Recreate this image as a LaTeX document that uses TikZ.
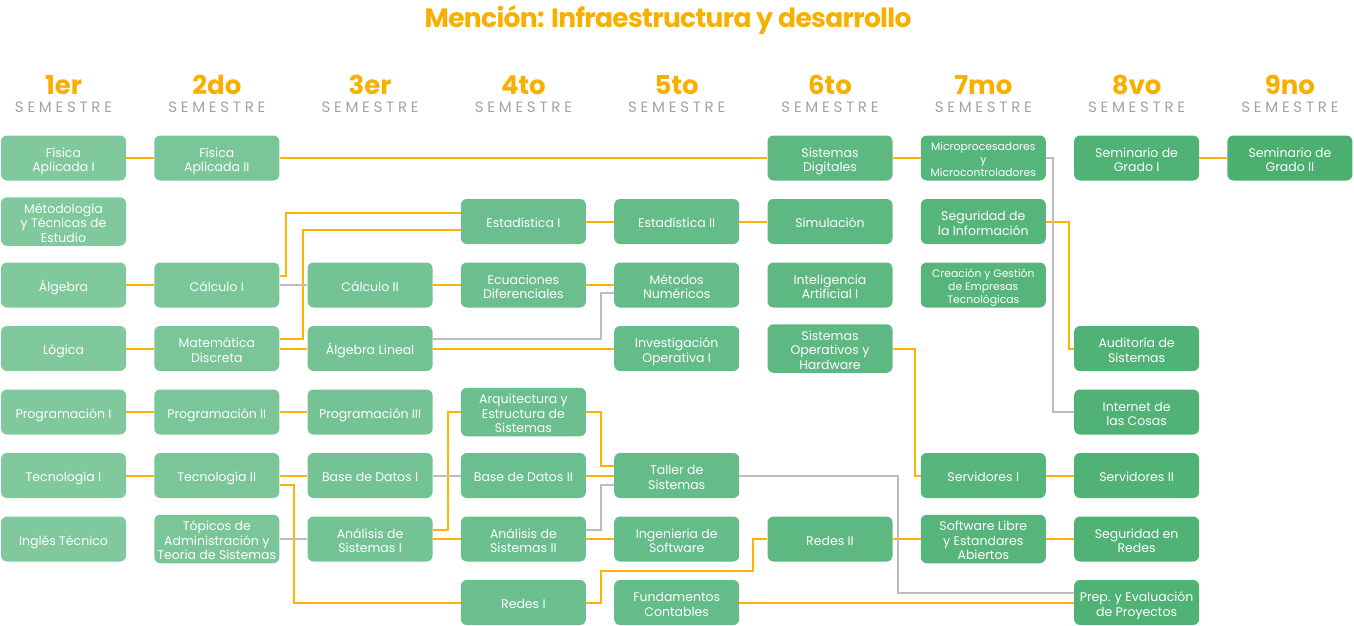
\documentclass[tikz,border=0pt]{standalone}
\usepackage{fontspec}
\setmainfont{Poppins}
\definecolor{org}{HTML}{FFB300}
\definecolor{ttl}{HTML}{F7B000}
\definecolor{gry}{HTML}{BDBDBD}
\definecolor{semg}{HTML}{A3A3A3}
\definecolor{ca}{HTML}{80C99C}
\definecolor{cb}{HTML}{7AC699}
\definecolor{cc}{HTML}{73C394}
\definecolor{cd}{HTML}{6BBF8E}
\definecolor{ce}{HTML}{64BC88}
\definecolor{cf}{HTML}{5DB882}
\definecolor{cg}{HTML}{56B57B}
\definecolor{ch}{HTML}{50B275}
\definecolor{ci}{HTML}{4BAF70}
\newcommand\bt[1]{\rule{0pt}{16pt}#1\rule[-3.5pt]{0pt}{0pt}}
\newcommand\st[1]{\rule{0pt}{13pt}#1\rule[-3pt]{0pt}{0pt}}
\tikzset{
  box/.style={rounded corners=6pt, fill=#1, minimum width=125pt, minimum height=45pt,
    text=white, align=center, inner sep=0pt, font=\fontsize{12.5}{14.5}\selectfont},
  smalltxt/.style={font=\fontsize{10.8}{13}\selectfont},
  ol/.style={draw=org, line width=2pt},
  gl/.style={draw=gry, line width=2pt},
  semnum/.style={text=ttl, font=\fontsize{26}{26}\selectfont\bfseries},
  semlab/.style={text=semg, font=\fontsize{15}{15}\selectfont\addfontfeature{LetterSpace=25}},
}
\begin{document}
\begin{tikzpicture}[x=1pt,y=-1pt]
\useasboundingbox (0,0) rectangle (1354,626);
% title
\node[text=ttl, font=\fontsize{26.5}{26.5}\selectfont\bfseries\addfontfeature{LetterSpace=-2.5}] (title) at (668,20) {Mención: Infraestructura y desarrollo};
% headers
\foreach \n/\t [count=\i from 0] in {h1/1er,h2/2do,h3/3er,h4/4to,h5/5to,h6/6to,h7/7mo,h8/8vo,h9/9no}{
  \node[semnum] (\n) at (63.5+153.3*\i,85) {\t};
  \node[semlab] (\n s) at (63.5+153.3*\i,107) {SEMESTRE};
}
% column 1
\node[box=ca] (fa1) at (63.5,158) {\bt{Física\\Aplicada I}};
\node[box=ca] (met) at (63.5,221.5) {\bt{Métodología\\y Técnicas de\\Estudio}};
\node[box=ca] (alg) at (63.5,285) {\bt{Álgebra}};
\node[box=ca] (log) at (63.5,348.5) {\bt{Lógica}};
\node[box=ca] (pr1) at (63.5,412) {\bt{Programación I}};
\node[box=ca] (te1) at (63.5,475.5) {\bt{Tecnología I}};
\node[box=ca] (ing) at (63.5,539) {\bt{Inglés Técnico}};
% column 2
\node[box=cb] (fa2) at (216.8,158) {\bt{Física\\Aplicada II}};
\node[box=cb] (ca1) at (216.8,285) {\bt{Cálculo I}};
\node[box=cb] (md) at (216.8,348.5) {\bt{Matemática\\Discreta}};
\node[box=cb] (pr2) at (216.8,412) {\bt{Programación II}};
\node[box=cb] (te2) at (216.8,475.5) {\bt{Tecnología II}};
\node[box=cb] (top) at (216.8,539) {\bt{Tópicos de\\Administración y\\Teoria de Sistemas}};
% column 3
\node[box=cc] (ca2) at (370.1,285) {\bt{Cálculo II}};
\node[box=cc] (al) at (370.1,348.5) {\bt{Álgebra Lineal}};
\node[box=cc] (pr3) at (370.1,412) {\bt{Programación III}};
\node[box=cc] (bd1) at (370.1,475.5) {\bt{Base de Datos I}};
\node[box=cc] (as1) at (370.1,539) {\bt{Análisis de\\Sistemas I}};
% column 4
\node[box=cd] (es1) at (523.4,221.5) {\bt{Estadística I}};
\node[box=cd] (ed) at (523.4,285) {\bt{Ecuaciones\\Diferenciales}};
\node[box=cd] (arq) at (523.4,412) {\bt{Arquitectura y\\Estructura de\\Sistemas}};
\node[box=cd] (bd2) at (523.4,475.5) {\bt{Base de Datos II}};
\node[box=cd] (as2) at (523.4,539) {\bt{Análisis de\\Sistemas II}};
\node[box=cd] (re1) at (523.4,602.5) {\bt{Redes I}};
% column 5
\node[box=ce] (es2) at (676.7,221.5) {\bt{Estadística II}};
\node[box=ce] (mn) at (676.7,285) {\bt{Métodos\\Numéricos}};
\node[box=ce] (io) at (676.7,348.5) {\bt{Investigación\\Operativa I}};
\node[box=ce] (tal) at (676.7,475.5) {\bt{Taller de\\Sistemas}};
\node[box=ce] (isw) at (676.7,539) {\bt{Ingenieria de\\Software}};
\node[box=ce] (fc) at (676.7,602.5) {\bt{Fundamentos\\Contables}};
% column 6
\node[box=cf] (sd) at (830,158) {\bt{Sistemas\\Digitales}};
\node[box=cf] (sim) at (830,221.5) {\bt{Simulación}};
\node[box=cf] (ia) at (830,285) {\bt{Inteligencia\\Artificial I}};
\node[box=cf] (so) at (830,348.5) {\bt{Sistemas\\Operativos y\\Hardware}};
\node[box=cf] (re2) at (830,539) {\bt{Redes II}};
% column 7
\node[box=cg, smalltxt] (mic) at (983.3,158) {\st{Microprocesadores\\y\\Microcontroladores}};
\node[box=cg] (si) at (983.3,221.5) {\bt{Seguridad de\\la Información}};
\node[box=cg, smalltxt] (cge) at (983.3,285) {\st{Creación y Gestión\\de Empresas\\Tecnológicas}};
\node[box=cg] (sv1) at (983.3,475.5) {\bt{Servidores I}};
\node[box=cg] (sl) at (983.3,539) {\bt{Software Libre\\y Estandares\\Abiertos}};
% column 8
\node[box=ch] (sg1) at (1136.6,158) {\bt{Seminario de\\Grado I}};
\node[box=ch] (aud) at (1136.6,348.5) {\bt{Auditoría de\\Sistemas}};
\node[box=ch] (iot) at (1136.6,412) {\bt{Internet de\\las Cosas}};
\node[box=ch] (sv2) at (1136.6,475.5) {\bt{Servidores II}};
\node[box=ch] (sr) at (1136.6,539) {\bt{Seguridad en\\Redes}};
\node[box=ch] (pe) at (1136.6,602.5) {\bt{Prep. y Evaluación\\de Proyectos}};
% column 9
\node[box=ci] (sg2) at (1289.9,158) {\bt{Seminario de\\Grado II}};
% orange connectors
\draw[ol] (fa1.east) -- (fa2.west);
\draw[ol] (fa2.east) -- (sd.west);
\draw[ol] (sd.east) -- (mic.west);
\draw[ol] (sg1.east) -- (sg2.west);
\draw[ol] (alg.east) -- (ca1.west);
\draw[ol] (log.east) -- (md.west);
\draw[ol] ([yshift=9pt]ca1.east) -- ++(6,0) |- ([yshift=8.5pt]es1.west);
\draw[ol] ([yshift=10pt]md.east) -- ++(23,0) |- ([yshift=-8.5pt]es1.west);
\draw[ol] (md.east) -- (al.west);
\draw[ol] (ca2.east) -- (ed.west);
\draw[ol] (ed.east) -- (mn.west);
\draw[ol] (es1.east) -- (es2.west);
\draw[ol] (es2.east) -- (sim.west);
\draw[ol] (al.east) -- (io.west);
\draw[ol] (pr1.east) -- (pr2.west);
\draw[ol] (pr2.east) -- (pr3.west);
\draw[ol] (te1.east) -- (te2.west);
\draw[ol] (te2.east) -- (bd1.west);
\draw[ol] ([yshift=-9pt]te2.east) -- ++(14,0) |- (re1.west);
\draw[ol] ([yshift=9pt]as1.east) -- ++(15,0) |- (arq.west);
\draw[ol] (as1.east) -- (as2.west);
\draw[ol] (arq.east) -- ++(15,0) |- ([yshift=10pt]tal.west);
\draw[ol] (bd2.east) -- (tal.west);
\draw[ol] (as2.east) -- (isw.west);
\draw[ol] (re1.east) -- ++(15,0) |- ([xshift=-14pt,yshift=-32pt]re2.west) |- (re2.west);
\draw[ol] (re2.east) -- (sl.west);
\draw[ol] (sl.east) -- (sr.west);
\draw[ol] (fc.east) -- (pe.west);
\draw[ol] (so.east) -- ++(22,0) |- (sv1.west);
\draw[ol] (si.east) -- ++(22.5,0) |- (aud.west);
\draw[ol] (sv1.east) -- (sv2.west);
% gray connectors
\draw[gl] (ca1.east) -- (ca2.west);
\draw[gl] ([yshift=10pt]al.east) -- ++(168,0) |- ([yshift=-8pt]mn.west);
\draw[gl] (top.east) -- (as1.west);
\draw[gl] (bd1.east) -- (bd2.west);
\draw[gl] ([yshift=9pt]as2.east) -- ++(15,0) |- ([yshift=-9pt]tal.west);
\draw[gl] (tal.east) -- ++(159,0) |- ([yshift=10pt]pe.west);
\draw[gl] (mic.east) -- ++(7,0) |- (iot.west);
\end{tikzpicture}
\end{document}
